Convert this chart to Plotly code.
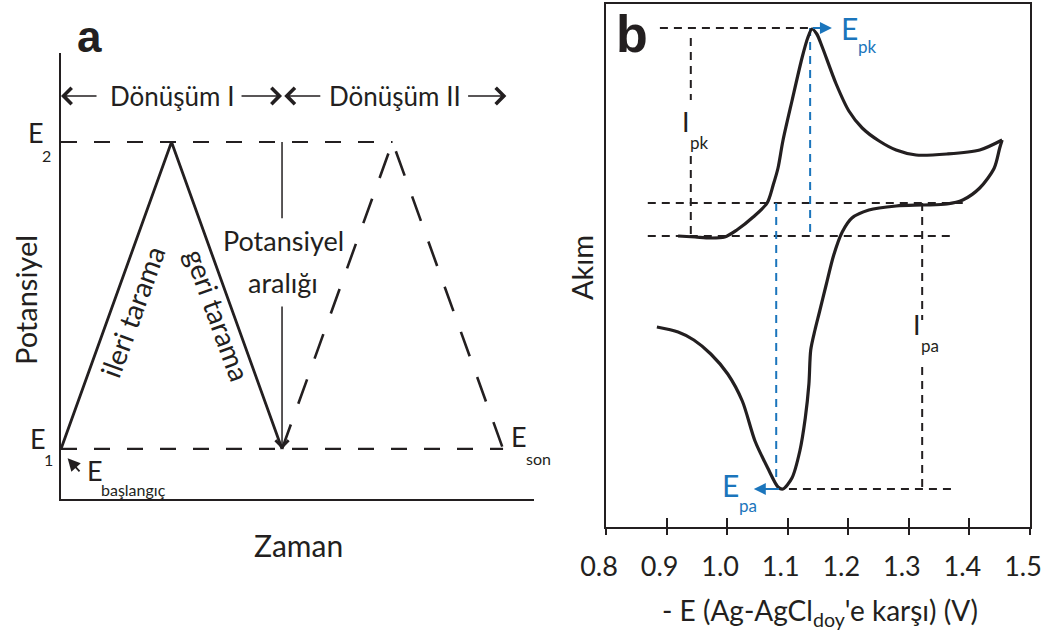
import plotly.graph_objects as go

W, H = 1044, 639
def px(x): return x / W
def py(y): return 1 - y / H

INK = "#231f20"
BLUE = "#1b75bc"
FONT = "Lato, Roboto, sans-serif"
BOLD = "Liberation Sans, Arial, sans-serif"

# ---------------- Panel a data (triangular waveform) ----------------
E1_level, E2_level = 0.0, 1.0
time_cycle1 = [0, 1, 2]
pot_cycle1 = [E1_level, E2_level, E1_level]
time_cycle2 = [2, 3, 4]
pot_cycle2 = [E1_level, E2_level, E1_level]
time_E2_ref = [0, 3]
time_E1_ref = [0, 4]

# ---------------- Panel b data (cyclic voltammogram) ----------------
E_forward = [0.919, 0.947, 0.972, 0.996, 1.016, 1.043, 1.066, 1.076, 1.084, 1.092,
             1.107, 1.124, 1.133, 1.140, 1.148, 1.157, 1.180, 1.201, 1.223, 1.251,
             1.279, 1.312, 1.363, 1.417, 1.454]
I_forward = [0.0, -0.025, -0.05, -0.025, 0.15, 0.475, 0.825, 1.275, 1.7, 2.375,
             3.375, 4.475, 4.95, 5.175, 5.05, 4.725, 3.8, 3.125, 2.7, 2.375,
             2.15, 2.025, 2.05, 2.15, 2.4]
E_reverse = [1.454, 1.450, 1.441, 1.417, 1.389, 1.363, 1.323, 1.279, 1.234, 1.206,
             1.190, 1.176, 1.163, 1.152, 1.145, 1.138, 1.135, 1.129, 1.120, 1.107,
             1.092, 1.084, 1.067, 1.046, 1.025, 1.001, 0.973, 0.945, 0.919, 0.884]
I_reverse = [2.4, 2.2, 1.7, 1.2, 0.9, 0.8, 0.775, 0.75, 0.65, 0.45,
             0.1, -0.475, -1.25, -1.925, -2.35, -2.85, -3.7, -4.55, -5.375, -6.05,
             -6.325, -6.275, -5.8, -5.125, -4.125, -3.45, -2.95, -2.6, -2.4, -2.275]
E_pk, I_pk = 1.139, 5.2
E_pa, I_pa = 1.081, -6.325
E_trough = 1.092
base_cathodic = 0.0
base_anodic = 0.825
E_ticks = [0.8, 0.9, 1.0, 1.1, 1.2, 1.3, 1.4, 1.5]

fig = go.Figure()

# ---- panel a traces ----
fig.add_trace(go.Scatter(x=time_E2_ref, y=[E2_level] * 2, mode="lines",
                         line=dict(color=INK, width=2.2, dash="16px,17px"),
                         xaxis="x2", yaxis="y2"))
fig.add_trace(go.Scatter(x=time_E1_ref, y=[E1_level] * 2, mode="lines",
                         line=dict(color=INK, width=2.2, dash="16px,17px"),
                         xaxis="x2", yaxis="y2"))
fig.add_trace(go.Scatter(x=time_cycle2, y=pot_cycle2, mode="lines",
                         line=dict(color=INK, width=2.6, dash="26px,22px"),
                         xaxis="x2", yaxis="y2"))
fig.add_trace(go.Scatter(x=time_cycle1, y=pot_cycle1, mode="lines",
                         line=dict(color=INK, width=2.8),
                         xaxis="x2", yaxis="y2"))

# ---- panel b guide lines ----
def guide(xs, ys, color=INK):
    fig.add_trace(go.Scatter(x=xs, y=ys, mode="lines",
                             line=dict(color=color, width=2, dash="8px,6px"),
                             xaxis="x", yaxis="y"))

guide([0.889, E_pk], [I_pk, I_pk])
guide([0.940, 0.940], [4.95, 3.4])
guide([0.940, 0.940], [2.0, base_cathodic])
guide([0.869, 1.389], [base_anodic, base_anodic])
guide([0.869, 1.371], [base_cathodic, base_cathodic])
guide([1.322, 1.322], [base_anodic, -2.1])
guide([1.322, 1.322], [-3.275, I_pa])
guide([E_trough + 0.01, 1.373], [I_pa, I_pa])
guide([E_pk - 0.002, E_pk - 0.002], [I_pk, base_cathodic], BLUE)
guide([E_pa, E_pa], [base_anodic, I_pa + 0.1], BLUE)

# ---- CV curve ----
fig.add_trace(go.Scatter(x=E_forward, y=I_forward, mode="lines",
                         line=dict(color=INK, width=3.2, shape="spline", smoothing=0.8),
                         xaxis="x", yaxis="y"))
fig.add_trace(go.Scatter(x=E_reverse, y=I_reverse, mode="lines",
                         line=dict(color=INK, width=3.2, shape="spline", smoothing=0.8),
                         xaxis="x", yaxis="y"))
# invisible trace for overlay tick axis
fig.add_trace(go.Scatter(x=[0.8], y=[0], mode="markers", marker=dict(opacity=0),
                         xaxis="x3", yaxis="y", hoverinfo="skip"))

ann = []
def txt(x, y, s, size, color=INK, angle=0, family=FONT, xanchor="center"):
    ann.append(dict(x=px(x), y=py(y), xref="paper", yref="paper", text=s,
                    showarrow=False, textangle=angle, xanchor=xanchor, yanchor="middle",
                    borderpad=0,
                    font=dict(family=family, size=size, color=color)))

def arrow(x, y, ax, ay, xr, yr, color=INK, head=4, width=1.6, size=1.4):
    ann.append(dict(x=x, y=y, ax=ax, ay=ay, xref=xr, yref=yr, axref=xr, ayref=yr,
                    text="", showarrow=True, arrowhead=head, arrowwidth=width,
                    arrowsize=size, arrowcolor=color, standoff=0, startstandoff=0))

# panel a text
txt(89, 36, "<b>a</b>", 44, family=BOLD)
txt(172, 96, "Dönüşüm I", 26)
txt(395, 96, "Dönüşüm II", 26)
txt(27, 132, "E", 27, xanchor="left")
txt(41, 156, "2", 16, xanchor="left")
txt(29, 438, "E", 27, xanchor="left")
txt(43, 460, "1", 16, xanchor="left")
txt(86, 470, "E", 27, xanchor="left")
txt(100, 489, "başlangıç", 16, xanchor="left")
txt(510, 436, "E", 27, xanchor="left")
txt(525, 458, "son", 16, xanchor="left")
txt(283, 240, "Potansiyel", 27)
txt(283, 283, "aralığı", 27)
txt(132, 312, "ileri tarama", 28, angle=-70)
txt(218, 315, "geri tarama", 28, angle=70)
txt(25, 300, "Potansiyel", 29, angle=-90)
txt(298, 545, "Zaman", 30)

# panel a arrows (in panel-a data coordinates)
row = 1.150
arrow(0.0, row, 0.335, row, "x2", "y2", size=2.1, width=1.5)
arrow(2.0, row, 1.62, row, "x2", "y2", size=2.1, width=1.5)
arrow(2.02, row, 2.36, row, "x2", "y2", size=2.1, width=1.5)
arrow(4.03, row, 3.67, row, "x2", "y2", size=2.1, width=1.5)
arrow(2.0, 0.0, 2.0, 0.469, "x2", "y2", width=1.5, size=1.7)
arrow(0.06, -0.03, 0.18, -0.078, "x2", "y2", head=2, width=1.8, size=1.4)

# panel b text
txt(632, 34, "<b>b</b>", 52, family=BOLD)
txt(581, 268, "Akım", 29, angle=-90)
txt(820, 612, "- E (Ag-AgCl<sub>doy</sub>'e karşı) (V)", 28)
txt(681, 122, "I", 27, xanchor="left")
txt(689, 142, "pk", 17, xanchor="left")
txt(912, 324, "I", 27, xanchor="left")
txt(920, 345, "pa", 17, xanchor="left")
txt(840, 28, "E", 30, color=BLUE, xanchor="left")
txt(857, 47, "pk", 17, color=BLUE, xanchor="left")
txt(721, 485, "E", 30, color=BLUE, xanchor="left")
txt(738, 505, "pa", 17, color=BLUE, xanchor="left")
arrow(1.173, I_pk, E_pk, I_pk, "x", "y", color=BLUE, head=2, width=2, size=1.2)
arrow(1.044, I_pa, E_trough - 0.004, I_pa, "x", "y", color=BLUE, head=2, width=2, size=1.2)

shapes = [dict(type="line", xref="x2", yref="y2", x0=2, x1=2, y0=E2_level, y1=0.752,
               line=dict(color=INK, width=1.5))]

fig.update_layout(
    width=W, height=H, margin=dict(l=0, r=0, t=0, b=0, autoexpand=False),
    paper_bgcolor="white", plot_bgcolor="white", showlegend=False,
    annotations=ann, shapes=shapes,
    xaxis=dict(domain=[px(606), px(1030)], range=[0.8, 1.5], anchor="y",
               automargin=False,
               showline=True, mirror=True, linecolor=INK, linewidth=2.2,
               showgrid=False, zeroline=False, tickvals=E_ticks,
               ticktext=[f"{v:.1f}" for v in E_ticks],
               ticks="outside", ticklen=6, tickwidth=2, tickcolor=INK,
               ticklabelstandoff=8, ticklabeloverflow="allow", ticklabelshift=-7,
               tickfont=dict(family=FONT, size=27, color=INK)),
    xaxis3=dict(overlaying="x", anchor="y", range=[0.8, 1.5], tickvals=E_ticks,
                automargin=False,
                showticklabels=False, ticks="inside", ticklen=9, tickwidth=2,
                tickcolor=INK, showline=False, showgrid=False, zeroline=False),
    yaxis=dict(domain=[py(527), py(4)], range=[-7.275, 5.8], anchor="x",
               automargin=False,
               showline=True, mirror=True, linecolor=INK, linewidth=2.2,
               showgrid=False, zeroline=False, showticklabels=False, ticks=""),
    xaxis2=dict(domain=[px(61), px(534)], range=[0, 4.28], anchor="y2",
                automargin=False,
                showline=True, linecolor=INK, linewidth=2.4, showgrid=False,
                zeroline=False, showticklabels=False, ticks=""),
    yaxis2=dict(domain=[py(499), py(53)], range=[-0.163, 1.29], anchor="x2",
                automargin=False,
                showline=True, linecolor=INK, linewidth=2, showgrid=False,
                zeroline=False, showticklabels=False, ticks=""),
)

fig.write_html("out.html")
